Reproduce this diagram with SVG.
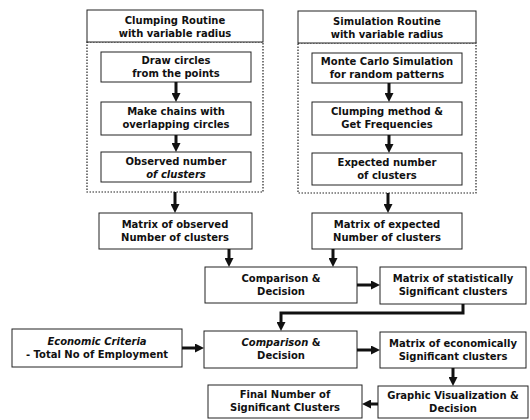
<svg xmlns="http://www.w3.org/2000/svg" width="530" height="420" viewBox="0 0 530 420">
<style>
.bx{fill:#fff;stroke:#222;stroke-width:1}
.grp{fill:none;stroke:#222;stroke-width:1.2;stroke-dasharray:1.5 1.5}
text{font-family:"DejaVu Sans","Verdana",sans-serif;font-weight:bold;font-size:10px;fill:#111;text-anchor:middle}
.it{font-style:italic}
.cn{fill:none;stroke:#111;stroke-width:3}
</style>
<defs>
<marker id="ah" viewBox="0 0 10 10" refX="3" refY="5" markerWidth="9" markerHeight="9" markerUnits="userSpaceOnUse" orient="auto">
<path d="M0,0 L10,5 L0,10 z" fill="#111"/>
</marker>
</defs>
<rect x="0" y="0" width="530" height="420" fill="#fff"/>

<g id="clumping-group">
<rect class="grp" x="87" y="42" width="176" height="150"/>
<rect class="bx" x="87" y="10" width="176" height="32"/>
<text x="175" y="24">Clumping Routine</text>
<text x="175" y="37">with variable radius</text>
</g>
<g id="draw-circles">
<rect class="bx" x="101" y="52" width="150" height="30"/>
<text x="176" y="64">Draw circles</text>
<text x="176" y="77">from the points</text>
</g>
<g id="make-chains">
<rect class="bx" x="101" y="102" width="150" height="33"/>
<text x="176" y="115">Make chains with</text>
<text x="176" y="128">overlapping circles</text>
</g>
<g id="observed-number">
<rect class="bx" x="101" y="152" width="150" height="30"/>
<text x="176" y="165">Observed number</text>
<text x="176" y="178" class="it">of clusters</text>
</g>

<g id="simulation-group">
<rect class="grp" x="298" y="43" width="178" height="150"/>
<rect class="bx" x="298" y="11" width="178" height="32"/>
<text x="387" y="25">Simulation Routine</text>
<text x="387" y="38">with variable radius</text>
</g>
<g id="monte-carlo">
<rect class="bx" x="312" y="53" width="150" height="30"/>
<text x="387" y="65">Monte Carlo Simulation</text>
<text x="387" y="78">for random patterns</text>
</g>
<g id="clumping-method">
<rect class="bx" x="312" y="102" width="150" height="33"/>
<text x="387" y="115">Clumping method &amp;</text>
<text x="387" y="128">Get Frequencies</text>
</g>
<g id="expected-number">
<rect class="bx" x="312" y="153" width="150" height="32"/>
<text x="387" y="166">Expected number</text>
<text x="387" y="179">of clusters</text>
</g>

<g id="matrix-observed">
<rect class="bx" x="99" y="213" width="153" height="36"/>
<text x="175" y="228">Matrix of observed</text>
<text x="175" y="241">Number of clusters</text>
</g>
<g id="matrix-expected">
<rect class="bx" x="312" y="213" width="150" height="36"/>
<text x="387" y="228">Matrix of expected</text>
<text x="387" y="241">Number of clusters</text>
</g>
<g id="comparison-1">
<rect class="bx" x="205" y="267" width="152" height="36"/>
<text x="281" y="282">Comparison &amp;</text>
<text x="281" y="295">Decision</text>
</g>
<g id="matrix-statistical">
<rect class="bx" x="380" y="267" width="146" height="37"/>
<text x="453" y="282">Matrix of statistically</text>
<text x="453" y="295">Significant clusters</text>
</g>
<g id="economic-criteria">
<rect class="bx" x="12" y="329" width="170" height="38"/>
<text x="97" y="345" class="it">Economic Criteria</text>
<text x="97" y="358">- Total No of Employment</text>
</g>
<g id="comparison-2">
<rect class="bx" x="204" y="331" width="153" height="37"/>
<text x="281" y="346"><tspan class="it">Comparison</tspan> &amp;</text>
<text x="281" y="359">Decision</text>
</g>
<g id="matrix-economic">
<rect class="bx" x="380" y="332" width="146" height="36"/>
<text x="453" y="347">Matrix of economically</text>
<text x="453" y="360">Significant clusters</text>
</g>
<g id="graphic-visualization">
<rect class="bx" x="378" y="386" width="150" height="32"/>
<text x="453" y="399">Graphic Visualization &amp;</text>
<text x="453" y="412">Decision</text>
</g>
<g id="final-number">
<rect class="bx" x="208" y="385" width="154" height="33"/>
<text x="285" y="398">Final Number of</text>
<text x="285" y="411">Significant Clusters</text>
</g>

<g id="connectors">
<line class="cn" x1="176" y1="82" x2="176" y2="95.7" marker-end="url(#ah)"/>
<line class="cn" x1="176" y1="135" x2="176" y2="145.7" marker-end="url(#ah)"/>
<line class="cn" x1="175" y1="192" x2="175" y2="206.7" marker-end="url(#ah)"/>
<line class="cn" x1="389" y1="83" x2="389" y2="95.7" marker-end="url(#ah)"/>
<line class="cn" x1="389" y1="135" x2="389" y2="146.7" marker-end="url(#ah)"/>
<line class="cn" x1="388" y1="193" x2="388" y2="206.7" marker-end="url(#ah)"/>
<line class="cn" x1="229" y1="249" x2="229" y2="260.7" marker-end="url(#ah)"/>
<line class="cn" x1="333" y1="249" x2="333" y2="260.7" marker-end="url(#ah)"/>
<line class="cn" x1="357" y1="285" x2="373.7" y2="285" marker-end="url(#ah)"/>
<path class="cn" d="M463,304 V313 H281 V324.7" marker-end="url(#ah)"/>
<line class="cn" x1="182" y1="348" x2="197.7" y2="348" marker-end="url(#ah)"/>
<line class="cn" x1="357" y1="350" x2="373.7" y2="350" marker-end="url(#ah)"/>
<line class="cn" x1="453" y1="368" x2="453" y2="379.7" marker-end="url(#ah)"/>
<line class="cn" x1="378" y1="404" x2="368.3" y2="404" marker-end="url(#ah)"/>
</g>
</svg>
